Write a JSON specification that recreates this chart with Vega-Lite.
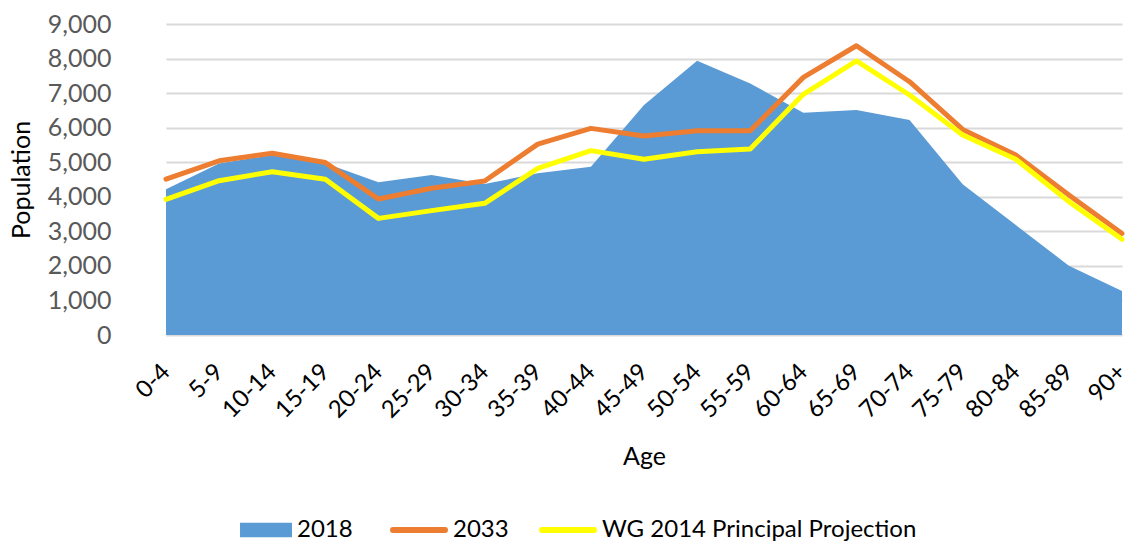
{
  "$schema": "https://vega.github.io/schema/vega-lite/v6.json",
  "autosize": {"type": "none"},
  "padding": {"left": 139, "top": 24, "right": 0, "bottom": 207},
  "width": 1003,
  "height": 311,
  "background": "white",
  "config": {
    "font": "Lato",
    "view": {"stroke": null}
  },
  "data": {
    "values": [
      {"age": "0-4", "series": "2018", "value": 4216},
      {"age": "5-9", "series": "2018", "value": 4960},
      {"age": "10-14", "series": "2018", "value": 5210},
      {"age": "15-19", "series": "2018", "value": 4970},
      {"age": "20-24", "series": "2018", "value": 4420},
      {"age": "25-29", "series": "2018", "value": 4630},
      {"age": "30-34", "series": "2018", "value": 4370},
      {"age": "35-39", "series": "2018", "value": 4680},
      {"age": "40-44", "series": "2018", "value": 4870},
      {"age": "45-49", "series": "2018", "value": 6655},
      {"age": "50-54", "series": "2018", "value": 7940},
      {"age": "55-59", "series": "2018", "value": 7280},
      {"age": "60-64", "series": "2018", "value": 6430},
      {"age": "65-69", "series": "2018", "value": 6510},
      {"age": "70-74", "series": "2018", "value": 6220},
      {"age": "75-79", "series": "2018", "value": 4360},
      {"age": "80-84", "series": "2018", "value": 3180},
      {"age": "85-89", "series": "2018", "value": 2005},
      {"age": "90+", "series": "2018", "value": 1270},
      {"age": "0-4", "series": "2033", "value": 4510},
      {"age": "5-9", "series": "2033", "value": 5040},
      {"age": "10-14", "series": "2033", "value": 5260},
      {"age": "15-19", "series": "2033", "value": 4990},
      {"age": "20-24", "series": "2033", "value": 3935},
      {"age": "25-29", "series": "2033", "value": 4245},
      {"age": "30-34", "series": "2033", "value": 4455},
      {"age": "35-39", "series": "2033", "value": 5525},
      {"age": "40-44", "series": "2033", "value": 5980},
      {"age": "45-49", "series": "2033", "value": 5760},
      {"age": "50-54", "series": "2033", "value": 5910},
      {"age": "55-59", "series": "2033", "value": 5910},
      {"age": "60-64", "series": "2033", "value": 7455},
      {"age": "65-69", "series": "2033", "value": 8370},
      {"age": "70-74", "series": "2033", "value": 7330},
      {"age": "75-79", "series": "2033", "value": 5950},
      {"age": "80-84", "series": "2033", "value": 5210},
      {"age": "85-89", "series": "2033", "value": 4050},
      {"age": "90+", "series": "2033", "value": 2940},
      {"age": "0-4", "series": "WG 2014 Principal Projection", "value": 3925},
      {"age": "5-9", "series": "WG 2014 Principal Projection", "value": 4465},
      {"age": "10-14", "series": "WG 2014 Principal Projection", "value": 4725},
      {"age": "15-19", "series": "WG 2014 Principal Projection", "value": 4505},
      {"age": "20-24", "series": "WG 2014 Principal Projection", "value": 3375},
      {"age": "25-29", "series": "WG 2014 Principal Projection", "value": 3600},
      {"age": "30-34", "series": "WG 2014 Principal Projection", "value": 3810},
      {"age": "35-39", "series": "WG 2014 Principal Projection", "value": 4820},
      {"age": "40-44", "series": "WG 2014 Principal Projection", "value": 5335},
      {"age": "45-49", "series": "WG 2014 Principal Projection", "value": 5085},
      {"age": "50-54", "series": "WG 2014 Principal Projection", "value": 5305},
      {"age": "55-59", "series": "WG 2014 Principal Projection", "value": 5380},
      {"age": "60-64", "series": "WG 2014 Principal Projection", "value": 6965},
      {"age": "65-69", "series": "WG 2014 Principal Projection", "value": 7930},
      {"age": "70-74", "series": "WG 2014 Principal Projection", "value": 6945},
      {"age": "75-79", "series": "WG 2014 Principal Projection", "value": 5790},
      {"age": "80-84", "series": "WG 2014 Principal Projection", "value": 5085},
      {"age": "85-89", "series": "WG 2014 Principal Projection", "value": 3860},
      {"age": "90+", "series": "WG 2014 Principal Projection", "value": 2770}
    ]
  },
  "encoding": {
    "x": {
      "field": "age",
      "type": "ordinal",
      "sort": null,
      "scale": {"type": "point", "range": [27, 983], "padding": 0},
      "axis": {
        "title": "Age",
        "titleFontSize": 25,
        "titleFontWeight": "normal",
        "titleColor": "#000000",
        "titlePadding": 22,
        "labelAngle": -45,
        "labelAlign": "right",
        "labelBaseline": "middle",
        "labelFontSize": 24,
        "labelColor": "#000000",
        "labelPadding": 33,
        "labelOverlap": false,
        "ticks": false,
        "domain": false,
        "grid": false
      }
    },
    "y": {
      "field": "value",
      "type": "quantitative",
      "scale": {"domain": [0, 9000], "nice": false},
      "axis": {
        "title": "Population",
        "titleFontSize": 25,
        "titleFontWeight": "normal",
        "titleColor": "#000000",
        "titlePadding": 13,
        "values": [0, 1000, 2000, 3000, 4000, 5000, 6000, 7000, 8000, 9000],
        "format": ",d",
        "labelFontSize": 25,
        "labelColor": "#595959",
        "labelPadding": 28,
        "ticks": false,
        "domain": false,
        "grid": true,
        "gridColor": "#D9D9D9",
        "gridWidth": 2
      }
    }
  },
  "layer": [
    {
      "transform": [{"filter": "datum.series === '2018'"}],
      "mark": {"type": "area", "opacity": 1, "line": false},
      "encoding": {
        "fill": {
          "datum": "2018",
          "type": "nominal",
          "scale": {"domain": ["2018"], "range": ["#5B9BD5"]},
          "legend": {
            "title": null,
            "orient": "none",
            "legendX": 101,
            "legendY": 480,
            "direction": "horizontal",
            "symbolType": "M-1,-0.28H1V0.28H-1Z",
            "symbolSize": 2700,
            "symbolStrokeWidth": 0,
            "symbolOpacity": 1,
            "labelFontSize": 24,
            "labelColor": "#000000",
            "labelOffset": 5,
            "labelLimit": 0
          }
        }
      }
    },
    {
      "transform": [{"filter": "datum.series !== '2018'"}],
      "mark": {"type": "line", "strokeWidth": 5, "strokeJoin": "round", "strokeCap": "round"},
      "encoding": {
        "stroke": {
          "field": "series",
          "type": "nominal",
          "scale": {"domain": ["2033", "WG 2014 Principal Projection"], "range": ["#ED7D31", "#FFFF00"]},
          "legend": {
            "title": null,
            "orient": "none",
            "legendX": 251,
            "legendY": 477,
            "direction": "horizontal",
            "symbolType": "stroke",
            "symbolSize": 2700,
            "symbolStrokeWidth": 6,
            "symbolOpacity": 1,
            "labelFontSize": 24,
            "labelColor": "#000000",
            "labelOffset": 5,
            "labelLimit": 0,
            "columnPadding": 21,
            "encode": {"symbols": {"update": {"strokeCap": {"value": "round"}}}}
          }
        }
      }
    }
  ]
}
